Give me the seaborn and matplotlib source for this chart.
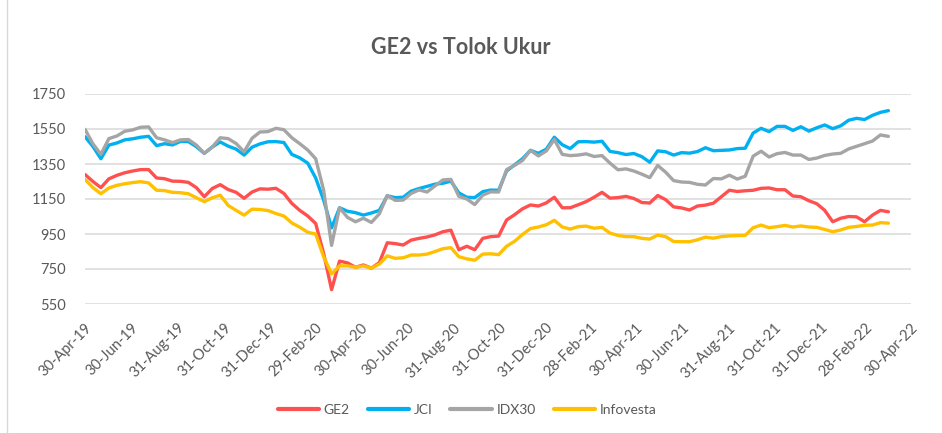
import matplotlib
matplotlib.use("Agg")
import matplotlib.pyplot as plt
import matplotlib.transforms as mtransforms
from matplotlib.lines import Line2D
import pandas as pd
import seaborn as sns

# Daily index series, sampled roughly every 10 days (30-Apr-19 .. 31-Mar-22)
START, END = "2019-04-30", "2022-03-31"

ge2 = [1290, 1250, 1215, 1265, 1285, 1300, 1310, 1318, 1318, 1270, 1266, 1252,
       1251, 1245, 1215, 1163, 1210, 1232, 1204, 1188, 1154, 1190, 1208, 1206, 1211,
       1182, 1125, 1085, 1053, 1010, 839, 632, 795, 785, 760, 773, 755,
       786, 900, 895, 887, 915, 925, 933, 945, 963, 972, 860, 880, 860,
       925, 935, 938, 1030, 1060, 1094, 1116, 1110, 1128, 1160, 1100, 1100,
       1117, 1135, 1160, 1188, 1155, 1158, 1165, 1153, 1130, 1127, 1170, 1146, 1105,
       1099, 1087, 1110, 1115, 1126, 1163, 1200, 1193, 1197, 1200, 1211, 1213,
       1203, 1203, 1167, 1163, 1140, 1123, 1085, 1020, 1040, 1050, 1048, 1020, 1058, 1085, 1077]

jci = [1506, 1450, 1380, 1458, 1470, 1488, 1494, 1503, 1508, 1455, 1466, 1459,
       1479, 1478, 1449, 1411, 1447, 1476, 1452, 1435, 1401, 1446, 1465, 1477, 1478,
       1473, 1405, 1385, 1355, 1270, 1144, 985, 1100, 1080, 1072, 1058, 1070,
       1085, 1168, 1158, 1160, 1195, 1210, 1222, 1235, 1240, 1252, 1185, 1160, 1158,
       1192, 1201, 1200, 1310, 1345, 1380, 1428, 1411, 1435, 1503, 1460, 1438,
       1477, 1478, 1475, 1480, 1422, 1415, 1404, 1410, 1392, 1360, 1425, 1420, 1401,
       1415, 1412, 1421, 1443, 1426, 1428, 1430, 1438, 1440, 1527, 1554, 1535,
       1565, 1565, 1542, 1563, 1538, 1557, 1573, 1552, 1568, 1600, 1611, 1604, 1628, 1645, 1655]

idx30 = [1548, 1465, 1405, 1495, 1510, 1537, 1545, 1560, 1562, 1500, 1488, 1472,
         1488, 1490, 1458, 1411, 1447, 1500, 1495, 1467, 1420, 1497, 1533, 1535, 1554,
         1546, 1500, 1466, 1430, 1380, 1201, 885, 1100, 1045, 1020, 1040, 1016,
         1065, 1170, 1142, 1144, 1182, 1202, 1190, 1225, 1259, 1262, 1165, 1150, 1118,
         1172, 1191, 1190, 1318, 1342, 1370, 1428, 1396, 1425, 1490, 1405, 1398,
         1401, 1408, 1393, 1398, 1355, 1317, 1322, 1310, 1292, 1272, 1342, 1303, 1255,
         1247, 1245, 1234, 1230, 1267, 1265, 1286, 1264, 1280, 1395, 1423, 1390,
         1409, 1416, 1401, 1401, 1376, 1384, 1399, 1407, 1411, 1436, 1451, 1466, 1481, 1516, 1508]

infovesta = [1262, 1215, 1180, 1213, 1228, 1237, 1244, 1249, 1242, 1200, 1198, 1188,
             1186, 1180, 1157, 1135, 1157, 1172, 1113, 1085, 1058, 1092, 1090, 1084, 1067,
             1053, 1013, 989, 960, 950, 820, 722, 768, 768, 760, 768, 755,
             778, 825, 811, 814, 830, 830, 835, 850, 866, 872, 820, 808, 800,
             835, 837, 832, 880, 908, 947, 981, 990, 1003, 1028, 990, 978,
             992, 995, 983, 988, 955, 942, 935, 935, 925, 921, 944, 935, 907,
             906, 906, 917, 932, 926, 935, 939, 941, 942, 986, 1001, 986,
             992, 999, 990, 996, 990, 988, 976, 963, 973, 988, 993, 1000, 1001, 1015, 1012]

series_names = ["GE2", "JCI", "IDX30", "Infovesta"]
colors = ["#FF5050", "#00B0F0", "#A5A5A5", "#FFC000"]

tick_labels = ["30-Apr-19", "30-Jun-19", "31-Aug-19", "31-Oct-19", "31-Dec-19",
               "29-Feb-20", "30-Apr-20", "30-Jun-20", "31-Aug-20", "31-Oct-20",
               "31-Dec-20", "28-Feb-21", "30-Apr-21", "30-Jun-21", "31-Aug-21",
               "31-Oct-21", "31-Dec-21", "28-Feb-22", "30-Apr-22"]
y_ticks = [550, 750, 950, 1150, 1350, 1550, 1750]

dates = pd.date_range(START, END, periods=len(ge2))
df = pd.DataFrame({"Date": dates, "GE2": ge2, "JCI": jci,
                   "IDX30": idx30, "Infovesta": infovesta})
df = df.melt(id_vars="Date", var_name="Series", value_name="Value")

sns.set_theme(style="white")
plt.rcParams["font.family"] = ["Lato", "DejaVu Sans"]
TXT = "#595959"

fig = plt.figure(figsize=(9.42, 4.33), dpi=100)
ax = fig.add_axes([85 / 942, 1 - 304 / 433, 826 / 942, 210 / 433])

sns.lineplot(data=df, x="Date", y="Value", hue="Series", hue_order=series_names,
             palette=colors, linewidth=2.4, ax=ax)

ax.set_ylim(y_ticks[0], y_ticks[-1])
ax.set_yticks(y_ticks)
ticks = pd.to_datetime(tick_labels, format="%d-%b-%y")
ax.set_xlim(ticks[0], ticks[-1])
ax.set_xticks(ticks)
ax.set_xticklabels(tick_labels, rotation=45, ha="right", va="top",
                   rotation_mode="anchor")
shift = mtransforms.ScaledTranslation(7 / 100, 0, fig.dpi_scale_trans)
for lab in ax.get_xticklabels():
    lab.set_transform(lab.get_transform() + shift)

ax.set_xlabel("")
ax.set_ylabel("")
ax.grid(axis="y", color="#D9D9D9", linewidth=1.1)
ax.set_axisbelow(True)
sns.despine(ax=ax, left=True, bottom=True)
ax.tick_params(length=0, colors=TXT, labelsize=10.5)
ax.tick_params(axis="y", pad=14)
ax.tick_params(axis="x", pad=12)

handles, labels = ax.get_legend_handles_labels()
ax.get_legend().remove()
for h in handles:
    h.set_linewidth(3)
fig.legend(handles, labels, loc="center", bbox_to_anchor=(467 / 942, 1 - 410 / 433),
           ncol=4, frameon=False, handlelength=3.0, handletextpad=0.3,
           columnspacing=1.3, fontsize=10, labelcolor=TXT)

fig.text(461 / 942, 1 - 47 / 433, "GE2 vs Tolok Ukur", ha="center", va="center",
         fontsize=15.5, fontweight="bold", color=TXT)
fig.add_artist(Line2D([7 / 942, 7 / 942], [0, 1], transform=fig.transFigure,
                      color="#D9D9D9", linewidth=1))

fig.savefig("out.png", dpi=100)
